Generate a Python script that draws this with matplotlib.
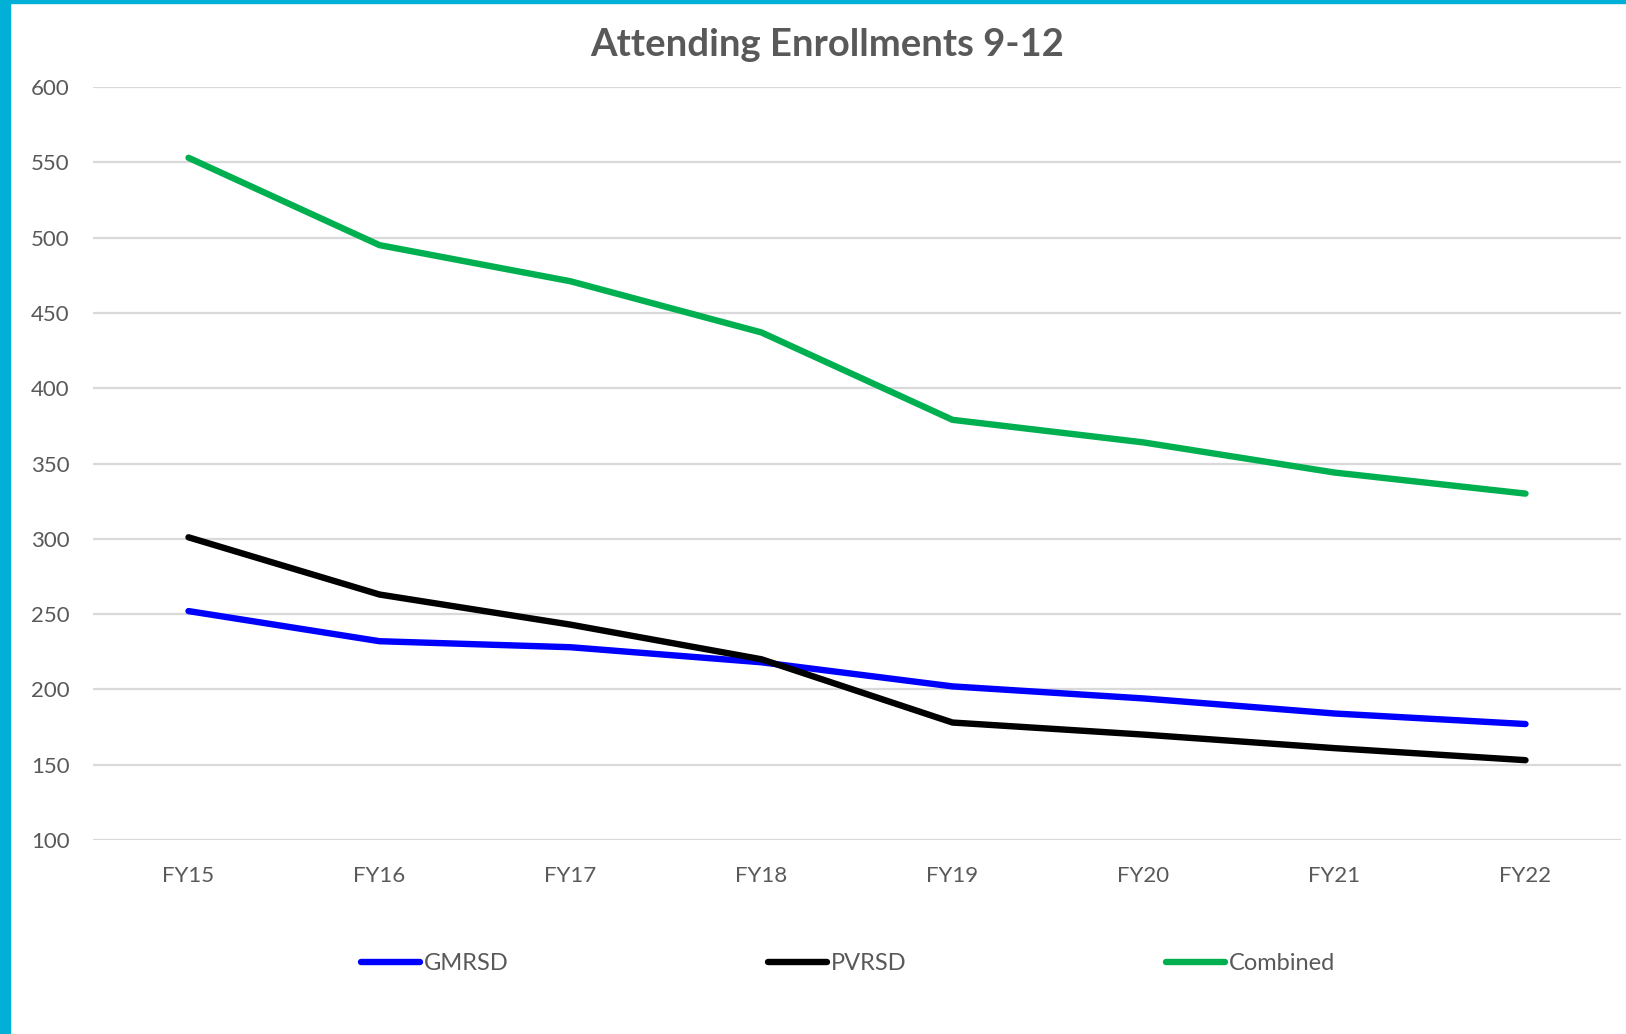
import matplotlib.pyplot as plt
from matplotlib.patches import Rectangle

plt.rcParams['font.family'] = ['Lato', 'DejaVu Sans']

years = ["FY15", "FY16", "FY17", "FY18", "FY19", "FY20", "FY21", "FY22"]
gmrsd = [252, 232, 228, 218, 202, 194, 184, 177]
pvrsd = [301, 263, 243, 220, 178, 170, 161, 153]
combined = [553, 495, 471, 437, 379, 364, 344, 330]

W, H = 1626, 1034
fig = plt.figure(figsize=(W / 100, H / 100), dpi=100)

# axes box in pixels: left 93, right 1621, top 87 (600), bottom 840 (100)
ax = fig.add_axes([93 / W, 1 - 840 / H, (1621 - 93) / W, (840 - 87) / H])

x = list(range(len(years)))
ax.plot(x, gmrsd, color="#0000FF", lw=4.6, solid_capstyle="round", label="GMRSD", zorder=3)
ax.plot(x, pvrsd, color="black", lw=4.6, solid_capstyle="round", label="PVRSD", zorder=3)
ax.plot(x, combined, color="#00B050", lw=4.6, solid_capstyle="round", label="Combined", zorder=3)

ax.set_xlim(-0.5, len(years) - 0.5)
ax.set_ylim(100, 600)
ax.set_yticks(range(100, 601, 50))
ax.set_xticks(x)
ax.set_xticklabels(years)
ax.grid(axis="y", color="#D9D9D9", lw=1.6)
ax.set_axisbelow(True)
for s in ax.spines.values():
    s.set_visible(False)
ax.tick_params(length=0, labelsize=16, colors="#595959")
ax.tick_params(axis="y", pad=17)
ax.tick_params(axis="x", pad=19)

fig.text(827 / W, 1 - 45 / H, "Attending Enrollments 9-12", ha="center", va="center",
         fontsize=27.5, fontweight="bold", color="#595959")

leg = fig.legend(loc="center", bbox_to_anchor=(848 / W, 1 - 964 / H), ncol=3, frameon=False,
                 fontsize=17, handlelength=2.5, handletextpad=0.15, columnspacing=11)
for t in leg.get_texts():
    t.set_color("#595959")

# cyan frame on left and top
fig.patches.append(Rectangle((0, 0), 10 / W, 1, transform=fig.transFigure, color="#00B0D6", zorder=10))
fig.patches.append(Rectangle((0, 1 - 3 / H), 1, 3 / H, transform=fig.transFigure, color="#00B0D6", zorder=10))

fig.savefig("out.png", dpi=100)
